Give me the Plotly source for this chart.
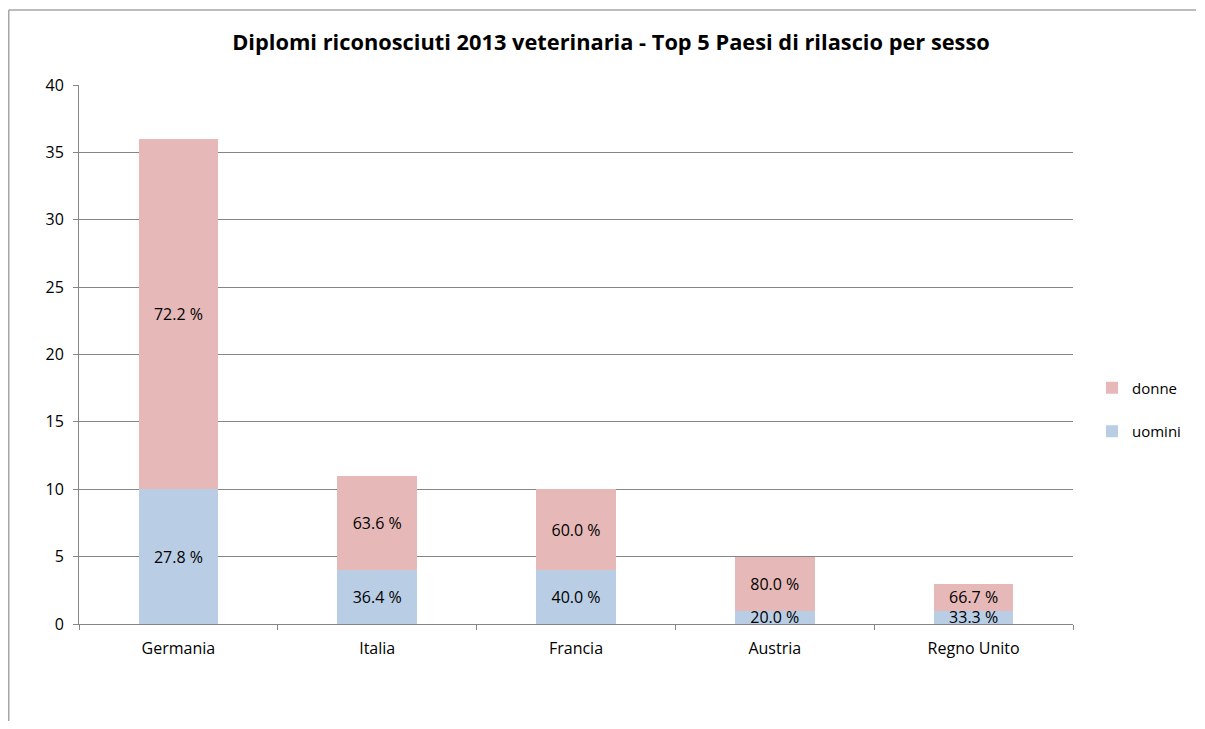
import plotly.graph_objects as go

categories = ["Germania", "Italia", "Francia", "Austria", "Regno Unito"]
uomini = [10, 4, 4, 1, 1]
donne = [26, 7, 6, 4, 2]
uomini_pct = ["27.8 %", "36.4 %", "40.0 %", "20.0 %", "33.3 %"]
donne_pct = ["72.2 %", "63.6 %", "60.0 %", "80.0 %", "66.7 %"]
y_ticks = [0, 5, 10, 15, 20, 25, 30, 35, 40]

FONT = "Open Sans, sans-serif"
# page has an 8px body margin; figure fills the rest of the window
W, H = 1189, 713
L, R, T, B = 71, 124, 77, 97
pw, ph = W - L - R, H - T - B

fig = go.Figure()
fig.add_trace(go.Bar(
    x=categories, y=uomini, name="uomini", text=uomini_pct,
    marker=dict(color="#B9CDE5", line=dict(width=0)),
    textposition="inside", insidetextanchor="middle",
    textfont=dict(color="black", size=16, family=FONT),
    legendgroup="u", legendrank=2, constraintext="none",
))
fig.add_trace(go.Bar(
    x=categories, y=donne, name="donne", text=donne_pct,
    marker=dict(color="#E6B9B8", line=dict(width=0)),
    textposition="inside", insidetextanchor="middle",
    textfont=dict(color="black", size=16, family=FONT),
    legendgroup="d", legendrank=1, constraintext="none",
))

def px_x(p):
    return (p - L) / pw

def px_y(p):
    return (H - B - p) / ph

# chart-area border (left and top edges visible in the reference)
fig.add_shape(type="line", xref="paper", yref="paper",
              x0=px_x(0.75), x1=px_x(0.75), y0=px_y(2), y1=px_y(H),
              line=dict(color="#A6A6A6", width=1.5), layer="below")
fig.add_shape(type="line", xref="paper", yref="paper",
              x0=px_x(0.75), x1=px_x(W - 1), y0=px_y(2), y1=px_y(2),
              line=dict(color="#A6A6A6", width=1.5), layer="below")

fig.update_layout(
    width=W, height=H,
    barmode="stack", bargap=0.6,
    paper_bgcolor="white", plot_bgcolor="white",
    margin=dict(l=L, r=R, t=T, b=B, autoexpand=False),
    font=dict(family=FONT, size=16, color="black"),
    uniformtext=dict(minsize=16, mode="show"),
    title=dict(text="<b>Diplomi riconosciuti 2013 veterinaria - Top 5 Paesi di rilascio per sesso</b>",
               x=603 / W, xref="container", xanchor="center",
               y=1 - 34 / H, yref="container", yanchor="middle",
               font=dict(size=21.8, family=FONT, color="black")),
    showlegend=True,
    legend=dict(x=1084 / W, xref="container", y=1 - 401.5 / H, yref="container",
                xanchor="left", yanchor="middle",
                traceorder="grouped", tracegroupgap=21,
                font=dict(size=15, family=FONT), itemwidth=30,
                bgcolor="rgba(0,0,0,0)"),
    xaxis=dict(type="category", showline=True, linecolor="#868686", linewidth=1,
               ticks="outside", tickson="boundaries", ticklen=5, tickcolor="#868686",
               showgrid=False, tickfont=dict(size=16), ticklabelstandoff=10),
    yaxis=dict(range=[0, 40], tickvals=y_ticks, showline=True, linecolor="#868686", linewidth=1,
               ticks="outside", ticklen=5, tickcolor="#868686",
               showgrid=True, gridcolor="#868686", gridwidth=1, zeroline=False,
               tickfont=dict(size=16), ticklabelstandoff=6),
)

fig.write_html("out.html")
